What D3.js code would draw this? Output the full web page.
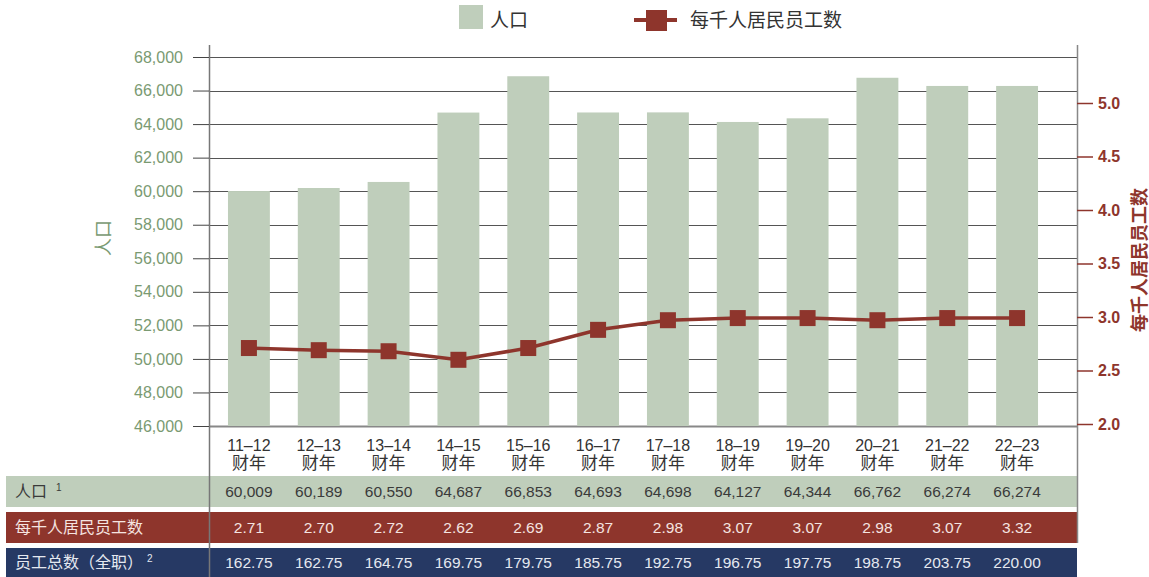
<!DOCTYPE html>
<html>
<head>
<meta charset="utf-8">
<script src="https://cdn.jsdelivr.net/npm/d3@7"></script>
<style>
  body { margin: 0; background: #fff; }
  svg { display: block; font-family: "Liberation Sans", "Noto Sans CJK SC", sans-serif; }
</style>
</head>
<body>
<svg id="chart"></svg>
<script>
var width = 1149;
var height = 577;

var years = ['11–12', '12–13', '13–14', '14–15', '15–16', '16–17', '17–18', '18–19', '19–20', '20–21', '21–22', '22–23'];
var population = [60009, 60189, 60550, 64687, 66853, 64693, 64698, 64127, 64344, 66762, 66274, 66274];
// plotted line values
var lineValues = [2.71, 2.69, 2.68, 2.60, 2.71, 2.88, 2.97, 2.99, 2.99, 2.97, 2.99, 2.99];
// table rows
var perThousand = ['2.71', '2.70', '2.72', '2.62', '2.69', '2.87', '2.98', '3.07', '3.07', '2.98', '3.07', '3.32'];
var staffTotal = ['162.75', '162.75', '164.75', '169.75', '179.75', '185.75', '192.75', '196.75', '197.75', '198.75', '203.75', '220.00'];
var leftTicks = [46000, 48000, 50000, 52000, 54000, 56000, 58000, 60000, 62000, 64000, 66000, 68000];
var rightTicks = [2.0, 2.5, 3.0, 3.5, 4.0, 4.5, 5.0];

var green = '#bfcebb';
var greenText = '#7a9a72';
var red = '#8e352c';
var navy = '#263964';

var plot = { left: 209, right: 1077, top: 45, bottom: 426 };

var svg = d3.select('#chart').attr('width', width).attr('height', height);

var x = d3.scaleBand().domain(years).range([214, 1052]).paddingInner(0.4).paddingOuter(0.2);
var yLeft = d3.scaleLinear().domain([46000, 68000]).range([426, 57]);
var yRight = d3.scaleLinear().domain([2.0, 5.0]).range([424, 103]);

// gridlines
svg.append('g').selectAll('line').data(leftTicks).enter().append('line')
  .attr('x1', plot.left).attr('x2', plot.right)
  .attr('y1', function(d) { return Math.round(yLeft(d)) + 0.5; })
  .attr('y2', function(d) { return Math.round(yLeft(d)) + 0.5; })
  .attr('stroke', function(d) { return d === 46000 ? '#888' : '#555'; })
  .attr('stroke-width', function(d) { return d === 46000 ? 2 : 1; });

// bars
svg.append('g').selectAll('rect').data(years).enter().append('rect')
  .attr('x', function(d) { return x(d); })
  .attr('width', x.bandwidth())
  .attr('y', function(d, i) { return yLeft(population[i]); })
  .attr('height', function(d, i) { return yLeft(46000) - yLeft(population[i]); })
  .attr('fill', green);

// table rows
var rows = [
  { label: '人口', sup: '1', supDx: 9, fill: green, text: '#3a3a3a', values: population.map(d3.format(',')), y: 476, h: 31 },
  { label: '每千人居民员工数', sup: '', fill: red, text: '#f5e4e0', values: perThousand, y: 512, h: 31 },
  { label: '员工总数（全职）', sup: '2', supDx: 4, fill: navy, text: '#e4e8f0', values: staffTotal, y: 548, h: 29 }
];
rows.forEach(function(r) {
  var g = svg.append('g');
  g.append('rect').attr('x', 6).attr('y', r.y).attr('width', plot.right - 6).attr('height', r.h).attr('fill', r.fill);
  var t = g.append('text').attr('x', 15).attr('y', r.y + r.h / 2).attr('dy', '0.36em')
    .attr('fill', r.text).style('font-size', '16px').text(r.label);
  if (r.sup) {
    t.append('tspan').attr('dx', r.supDx).attr('dy', '-0.6em').style('font-size', '10px').text(r.sup);
  }
  g.selectAll('.val').data(r.values).enter().append('text')
    .attr('x', function(d, i) { return x(years[i]) + x.bandwidth() / 2; })
    .attr('y', r.y + r.h / 2).attr('dy', '0.36em')
    .attr('text-anchor', 'middle').attr('fill', r.text)
    .style('font-size', '15.5px').text(function(d) { return d; });
});

// axis lines
svg.append('line').attr('x1', plot.left + 0.5).attr('x2', plot.left + 0.5).attr('y1', plot.top).attr('y2', height)
  .attr('stroke', '#777').attr('stroke-width', 1.5);
svg.append('line').attr('x1', plot.right + 0.5).attr('x2', plot.right + 0.5).attr('y1', plot.top).attr('y2', 543)
  .attr('stroke', '#888').attr('stroke-width', 1.5);

// left axis
var leftAxis = svg.append('g').attr('transform', 'translate(' + plot.left + ',0)')
  .call(d3.axisLeft(yLeft).tickValues(leftTicks).tickFormat(d3.format(',')).tickSize(16).tickPadding(10));
leftAxis.select('.domain').remove();
leftAxis.selectAll('line').attr('stroke', '#444');
leftAxis.selectAll('text').attr('fill', greenText).style('font-size', '16px').style('font-family', '"Liberation Sans", sans-serif');

// right axis
var rightAxis = svg.append('g').attr('transform', 'translate(' + plot.right + ',0)')
  .call(d3.axisRight(yRight).tickValues(rightTicks).tickFormat(d3.format('.1f')).tickSize(16).tickPadding(5));
rightAxis.select('.domain').remove();
rightAxis.selectAll('line').attr('stroke', red).attr('stroke-width', 1.5);
rightAxis.selectAll('text').attr('fill', red).style('font-size', '16px').style('font-weight', 'bold').style('font-family', '"Liberation Sans", sans-serif');

// axis titles
svg.append('text').attr('transform', 'translate(104,238) rotate(-90)').attr('text-anchor', 'middle')
  .attr('dominant-baseline', 'central')
  .attr('fill', greenText).style('font-size', '18px').text('人口');
svg.append('text').attr('transform', 'translate(1140,260) rotate(-90)').attr('text-anchor', 'middle')
  .attr('dominant-baseline', 'central')
  .attr('fill', red).style('font-size', '18px').style('font-weight', 'bold').text('每千人居民员工数');

// year labels
var yl = svg.append('g').selectAll('text').data(years).enter().append('text')
  .attr('text-anchor', 'middle').attr('fill', '#333');
yl.append('tspan').attr('x', function(d) { return x(d) + x.bandwidth() / 2; }).attr('y', 451)
  .style('font-size', '16px').text(function(d) { return d; });
yl.append('tspan').attr('x', function(d) { return x(d) + x.bandwidth() / 2; }).attr('y', 469)
  .style('font-size', '17px').text('财年');

// line
var line = d3.line()
  .x(function(d, i) { return x(years[i]) + x.bandwidth() / 2; })
  .y(function(d) { return yRight(d); });
svg.append('path').datum(lineValues).attr('d', line)
  .attr('fill', 'none').attr('stroke', red).attr('stroke-width', 3.5);
svg.append('g').selectAll('rect').data(lineValues).enter().append('rect')
  .attr('x', function(d, i) { return x(years[i]) + x.bandwidth() / 2 - 8; })
  .attr('y', function(d) { return yRight(d) - 8; })
  .attr('width', 16).attr('height', 16).attr('fill', red);

// legend
var legend = svg.append('g');
legend.append('rect').attr('x', 459).attr('y', 5).attr('width', 24).attr('height', 24).attr('fill', green);
legend.append('text').attr('x', 490).attr('y', 20).attr('dy', '0.36em').attr('fill', '#333').style('font-size', '19px').text('人口');
legend.append('line').attr('x1', 634).attr('x2', 677).attr('y1', 20).attr('y2', 20).attr('stroke', red).attr('stroke-width', 4);
legend.append('rect').attr('x', 646).attr('y', 10).attr('width', 21).attr('height', 21).attr('fill', red);
legend.append('text').attr('x', 690).attr('y', 20).attr('dy', '0.36em').attr('fill', '#333').style('font-size', '19px').text('每千人居民员工数');
</script>
</body>
</html>
